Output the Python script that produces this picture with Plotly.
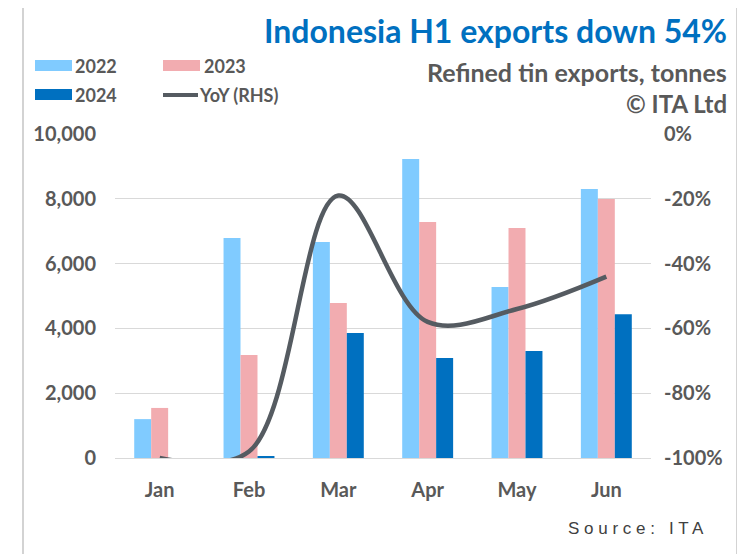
import plotly.graph_objects as go

months = ["Jan", "Feb", "Mar", "Apr", "May", "Jun"]
exports_2022 = [1200, 6790, 6670, 9230, 5280, 8300]
exports_2023 = [1545, 3180, 4785, 7285, 7100, 7995]
exports_2024 = [0, 50, 3860, 3085, 3300, 4440]
yoy_pct = [-100, -98, -19, -58, -54, -44]

series_names = ["2022", "2023", "2024", "YoY (RHS)"]
left_ticks = [0, 2000, 4000, 6000, 8000, 10000]
right_ticks = [-100, -80, -60, -40, -20, 0]
right_tick_text = ["-100%", "-80%", "-60%", "-40%", "-20%", "0%"]

title_text = "Indonesia H1 exports down 54%"
subtitle_text = "Refined tin exports, tonnes"
copyright_text = "© ITA Ltd"
source_text = "S o u r c e :   I T A"

C22 = "#80CBFF"
C23 = "#F2ACB0"
C24 = "#0070C0"
CLINE = "#555B61"
GRAY = "#595959"
FONT = "Lato"

# page has an 8px body margin; target coordinates are in window pixels
OFF = 8
WIN_W, WIN_H = 745, 554
L, R, T, B = 115, 651, 134, 458


def px(x):
    return (x - L) / (R - L)


def py(y):
    return (B - y) / (B - T)


fig = go.Figure()
fig.add_bar(x=months, y=exports_2022, name=series_names[0], marker_color=C22, marker_line_width=0)
fig.add_bar(x=months, y=exports_2023, name=series_names[1], marker_color=C23, marker_line_width=0)
fig.add_bar(x=months, y=exports_2024, name=series_names[2], marker_color=C24, marker_line_width=0)
fig.add_scatter(x=months, y=yoy_pct, name=series_names[3], yaxis="y2", mode="lines",
                line=dict(color=CLINE, width=4.5, shape="spline", smoothing=1.0))

tickfont = dict(family=FONT, size=20, color=GRAY, weight="bold")

fig.update_layout(
    width=WIN_W - OFF, height=WIN_H - OFF,
    margin=dict(l=L - OFF, r=WIN_W - R, t=T - OFF, b=WIN_H - B),
    paper_bgcolor="white", plot_bgcolor="white",
    barmode="group", bargap=0.43, bargroupgap=0,
    showlegend=False,
    xaxis=dict(tickfont=tickfont, showgrid=False, ticks="", showline=False,
               ticklabelstandoff=18, fixedrange=True),
    yaxis=dict(range=[0, 10000], tickvals=left_ticks, tickformat=",d",
               tickfont=tickfont, showgrid=True, gridcolor="#D9D9D9", gridwidth=1,
               zeroline=True, zerolinecolor="#D9D9D9", zerolinewidth=1,
               showline=False, ticks="", ticklabelstandoff=18),
    yaxis2=dict(range=[-100, 0], overlaying="y", side="right", tickvals=right_ticks,
                ticktext=right_tick_text, tickfont=tickfont, showgrid=False,
                zeroline=False, showline=False, ticks="", ticklabelstandoff=12),
)

shapes = [
    dict(type="rect", xref="paper", yref="paper", x0=px(23), x1=px(737), y0=py(600), y1=py(4),
         line=dict(color="#D3D3D3", width=2), fillcolor="rgba(0,0,0,0)", layer="below"),
    dict(type="rect", xref="paper", yref="paper", x0=px(35), x1=px(72), y0=py(71), y1=py(60),
         line_width=0, fillcolor=C22),
    dict(type="rect", xref="paper", yref="paper", x0=px(163), x1=px(200), y0=py(71), y1=py(60),
         line_width=0, fillcolor=C23),
    dict(type="rect", xref="paper", yref="paper", x0=px(35), x1=px(72), y0=py(100), y1=py(89),
         line_width=0, fillcolor=C24),
    dict(type="line", xref="paper", yref="paper", x0=px(163), x1=px(198), y0=py(95), y1=py(95),
         line=dict(color=CLINE, width=4)),
]
fig.update_layout(shapes=shapes)

leg_font = dict(family=FONT, size=18, color=GRAY, weight="bold")
ann = [
    dict(text=series_names[0], x=px(73), y=py(66), xanchor="left", yanchor="middle", font=leg_font),
    dict(text=series_names[1], x=px(202), y=py(66), xanchor="left", yanchor="middle", font=leg_font),
    dict(text=series_names[2], x=px(73), y=py(95), xanchor="left", yanchor="middle", font=leg_font),
    dict(text=series_names[3], x=px(197), y=py(95), xanchor="left", yanchor="middle",
         font=dict(family=FONT, size=18, color=GRAY, weight="bold")),
    dict(text=title_text, x=px(729), y=py(31), xanchor="right", yanchor="middle",
         font=dict(family=FONT, size=32, color="#0070C0", weight="bold")),
    dict(text=subtitle_text, x=px(729), y=py(72), xanchor="right", yanchor="middle",
         font=dict(family=FONT, size=25, color=GRAY, weight="bold")),
    dict(text=copyright_text, x=px(729), y=py(103), xanchor="right", yanchor="middle",
         font=dict(family=FONT, size=24, color=GRAY, weight="bold")),
    dict(text=source_text, x=px(706), y=py(528), xanchor="right", yanchor="middle",
         font=dict(family="Liberation Sans", size=17, color="#404040")),
]
for a in ann:
    a.update(xref="paper", yref="paper", showarrow=False)
fig.update_layout(annotations=ann)

fig.write_html("out.html")
